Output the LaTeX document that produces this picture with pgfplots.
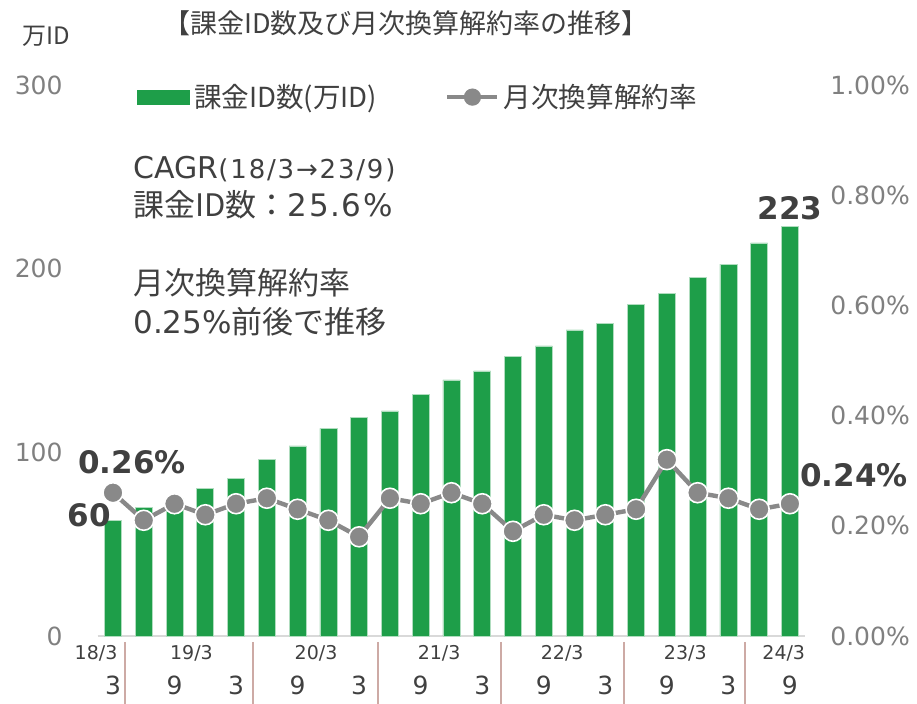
\documentclass[border=0pt]{standalone}
\usepackage{pgfplots}
\pgfplotsset{compat=1.18}
\usepackage{fontspec}
\setmainfont{DejaVu Sans}
\newfontfamily\jp{Noto Sans CJK JP}
\newfontfamily\dvsp[LetterSpace=7]{DejaVu Sans}
\newfontfamily\dvspb[LetterSpace=5]{DejaVu Sans}
\definecolor{barg}{RGB}{30,158,73}
\definecolor{lineg}{RGB}{137,137,137}
\definecolor{txt}{RGB}{64,64,64}
\definecolor{tickc}{RGB}{128,128,128}
\definecolor{sepc}{RGB}{205,170,165}

\begin{document}
\begin{tikzpicture}
\useasboundingbox (0,0) rectangle (458.5pt,352pt);

% bars: 課金ID数 (万ID), quarterly 18/3 .. 23/9
\begin{axis}[
    at={(48.8pt,34pt)}, anchor=south west,
    scale only axis, width=353.85pt, height=275.5pt,
    xmin=-0.5, xmax=22.5, ymin=0, ymax=300,
    axis x line*=bottom, axis y line*=left,
    x axis line style={draw=black!15, line width=0.8pt, -},
    y axis line style={draw=none},
    major tick length=0pt,
    xtick={0,...,22},
    xticklabels={3,,9,,3,,9,,3,,9,,3,,9,,3,,9,,3,,9},
    xticklabel style={font=\fontsize{12.5}{14}\selectfont, text=txt, anchor=base, yshift=-29.5pt},
    ytick={0,100,200,300},
    yticklabels={0,100,200,300},
    yticklabel style={font=\fontsize{12.5}{14}\selectfont, text=tickc, anchor=east, xshift=-14pt},
    clip=false,
]
\addplot[ybar, bar width=8.5pt, fill=barg, draw=barg!35!white, line width=0.3pt] coordinates {
    (0,63) (1,70) (2,75) (3,80.5) (4,86) (5,96) (6,103.5) (7,113) (8,119.2)
    (9,122.5) (10,131.7) (11,139.4) (12,144.3) (13,152.4) (14,157.9) (15,166.6)
    (16,170.4) (17,180.7) (18,186.7) (19,195.4) (20,202.5) (21,214) (22,223)
};
\node[font=\bfseries\fontsize{15.5}{18}\selectfont, text=txt, anchor=south, inner sep=1pt, yshift=2pt] at (axis cs:22,223) {223};
\node[font=\bfseries\fontsize{15.5}{18}\selectfont, text=txt, anchor=east, inner sep=1pt, yshift=2.5pt] at (axis cs:0,63) {60};
% fiscal year separators
\draw[sepc, line width=0.9pt] ([yshift=-3pt]axis cs:0.4,0) -- ([yshift=-34pt]axis cs:0.4,0);
\draw[sepc, line width=0.9pt] ([yshift=-3pt]axis cs:4.55,0) -- ([yshift=-34pt]axis cs:4.55,0);
\draw[sepc, line width=0.9pt] ([yshift=-3pt]axis cs:8.6,0) -- ([yshift=-34pt]axis cs:8.6,0);
\draw[sepc, line width=0.9pt] ([yshift=-3pt]axis cs:12.6,0) -- ([yshift=-34pt]axis cs:12.6,0);
\draw[sepc, line width=0.9pt] ([yshift=-3pt]axis cs:16.6,0) -- ([yshift=-34pt]axis cs:16.6,0);
\draw[sepc, line width=0.9pt] ([yshift=-3pt]axis cs:20.55,0) -- ([yshift=-34pt]axis cs:20.55,0);
% fiscal year headers
\begin{scope}[every node/.style={font=\fontsize{9.5}{11}\selectfont, text=txt, anchor=base, yshift=-12pt}]
\node at (axis cs:-0.55,0) {18/3};
\node at (axis cs:2.55,0) {19/3};
\node at (axis cs:6.6,0) {20/3};
\node at (axis cs:10.6,0) {21/3};
\node at (axis cs:14.6,0) {22/3};
\node at (axis cs:18.6,0) {23/3};
\node at (axis cs:21.8,0) {24/3};
\end{scope}
\end{axis}

% line: 月次換算解約率 (%)
\begin{axis}[
    at={(48.8pt,34pt)}, anchor=south west,
    scale only axis, width=353.85pt, height=275.5pt,
    xmin=-0.5, xmax=22.5, ymin=0, ymax=1,
    axis x line=none, axis y line*=right,
    y axis line style={draw=none},
    major tick length=0pt,
    ytick={0,0.2,0.4,0.6,0.8,1},
    yticklabels={0.00\%,0.20\%,0.40\%,0.60\%,0.80\%,1.00\%},
    yticklabel style={font=\fontsize{12.5}{14}\selectfont, text=tickc, anchor=west, xshift=9pt},
    clip=false,
    legend style={draw=none, fill=none, at={(0.047,0.978)}, anchor=west,
        font=\jp\fontsize{13.8}{16}\selectfont, text=txt,
        /tikz/every even column/.append style={column sep=32pt}},
    legend columns=2,
]
\addlegendimage{legend image code/.code={\fill[barg] (0pt,-3.5pt) rectangle (26pt,3.5pt);}}
\addlegendentry{課金ID数(万ID)}
\addplot[lineg, line width=2.2pt, mark=*, mark size=5pt,
    mark options={fill=lineg, draw=white, line width=0.8pt},
    legend image code/.code={\draw[lineg, line width=2.2pt] (0pt,0pt) -- (25pt,0pt); \fill[lineg] (12.5pt,0pt) circle (3.2pt);}]
  coordinates {
    (0,0.26) (1,0.21) (2,0.24) (3,0.22) (4,0.24) (5,0.25) (6,0.23) (7,0.21)
    (8,0.18) (9,0.25) (10,0.24) (11,0.26) (12,0.24) (13,0.19) (14,0.22)
    (15,0.21) (16,0.22) (17,0.23) (18,0.32) (19,0.26) (20,0.25) (21,0.23) (22,0.24)
};
\addlegendentry{月次換算解約率}
\node[font=\bfseries\fontsize{15.5}{18}\selectfont, text=txt, anchor=south, inner sep=1pt, xshift=9.5pt, yshift=8pt] at (axis cs:0,0.26) {0.26\%};
\node[font=\bfseries\fontsize{15.5}{18}\selectfont, text=txt, anchor=west, inner sep=1pt, xshift=4pt, yshift=14.5pt] at (axis cs:22,0.24) {0.24\%};
\end{axis}

% titles and text block (image pixel coordinates)
\begin{scope}[x=0.5pt, y=-0.5pt, shift={(0pt,352pt)}]
\node[font=\jp\fontsize{13.5}{15}\selectfont, text=txt] at (406,23) {【課金ID数及び月次換算解約率の推移】};
\node[font=\jp\fontsize{12}{14}\selectfont, text=txt] at (46,36) {万ID};
\begin{scope}[every node/.style={anchor=base west, inner sep=0pt, text=txt}]
\node[font=\fontsize{15}{18}\selectfont] at (133,179) {CAGR{\dvsp\fontsize{13}{15}\selectfont(18/3→23/9)}};
\node[font=\fontsize{15.5}{18}\selectfont] at (133,217) {{\jp 課金ID数：}{\dvspb 25.6\%}};
\node[font=\jp\fontsize{15.5}{18}\selectfont] at (133,295) {月次換算解約率};
\node[font=\fontsize{15.5}{18}\selectfont] at (133,334) {0.25\%{\jp 前後で推移}};
\end{scope}
\end{scope}
\end{tikzpicture}
\end{document}
